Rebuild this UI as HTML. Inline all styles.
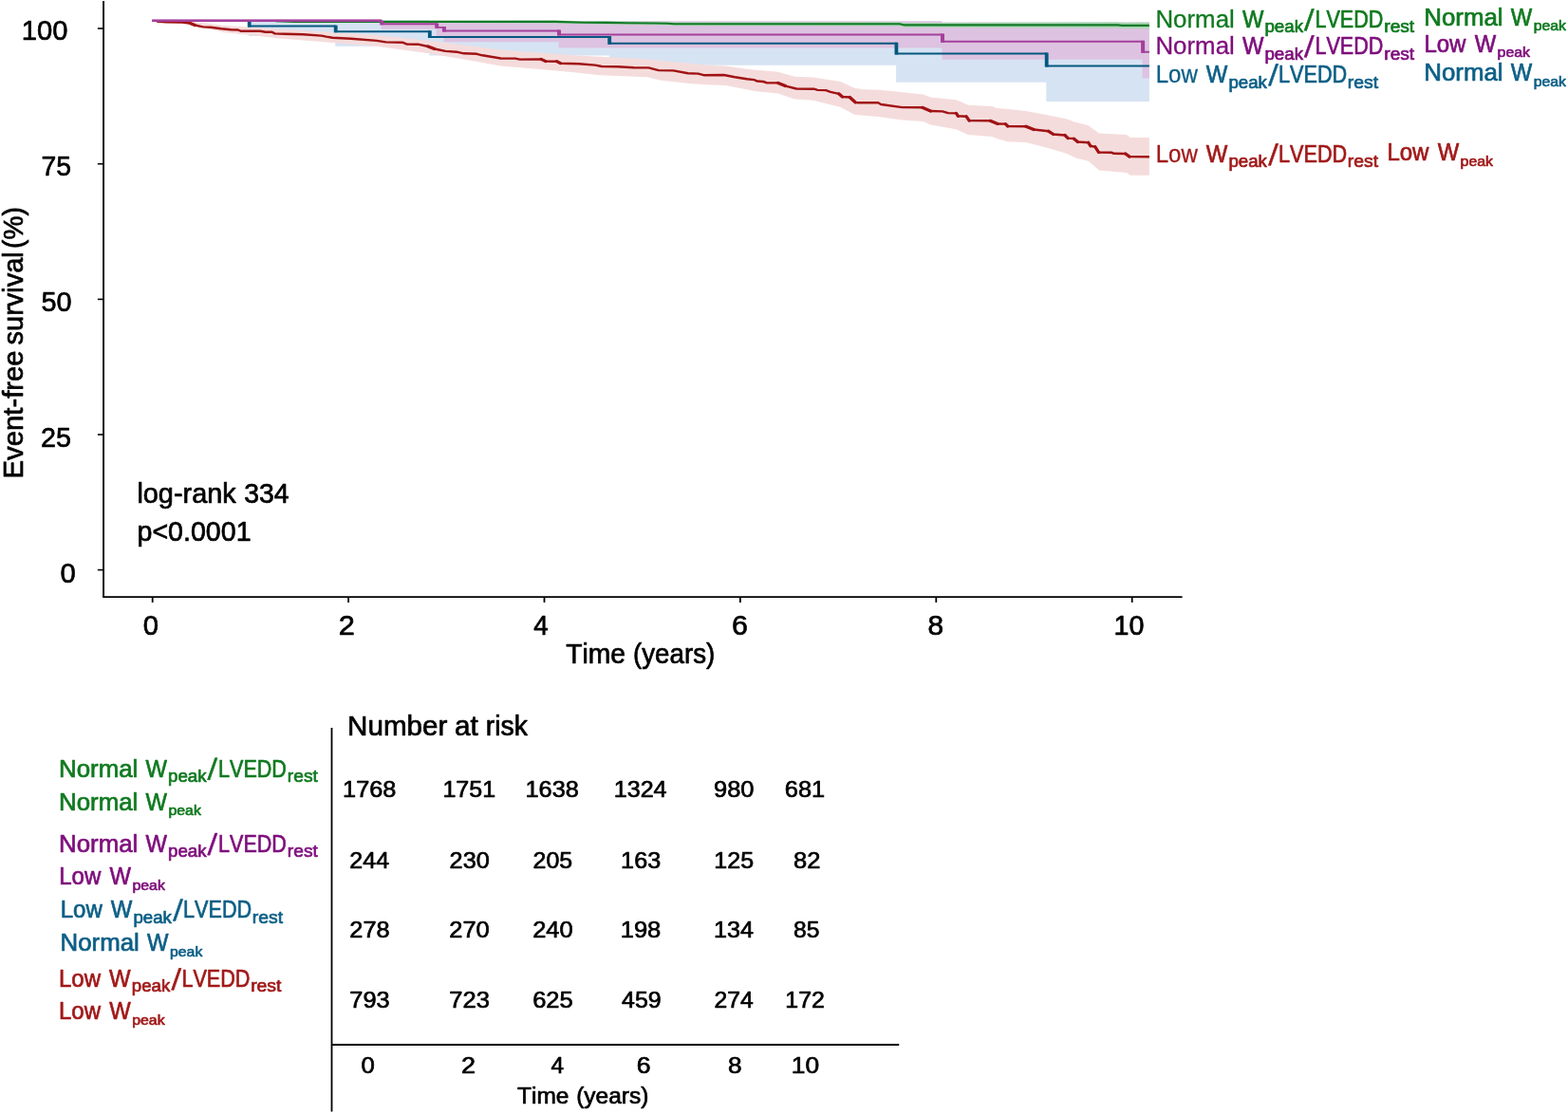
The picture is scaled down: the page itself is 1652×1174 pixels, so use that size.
<!DOCTYPE html>
<html lang="en"><head><meta charset="utf-8"><title>Event-free survival</title>
<style>
html,body{margin:0;padding:0;background:#fff;}
body{width:1652px;height:1174px;overflow:hidden;}
svg{display:block;}
text{font-family:"Liberation Sans",sans-serif;font-kerning:none;white-space:pre;stroke-width:0.7px;stroke-linejoin:round;}
#ticks text,#table text,#ytitle text{stroke:#000;}
</style></head><body>
<svg width="1652" height="1174" viewBox="0 0 1652 1174">
<rect width="1652" height="1174" fill="#fff"/>
<g id="bands">
<polygon points="160.2,21.7 262.3,21.7 262.3,38.0 353.3,38.0 353.3,48.7 452.4,48.7 452.4,58.5 641.8,58.5 641.8,68.7 944.1,68.7 944.1,86.7 1102.3,86.7 1102.3,107.0 1210.9,107.0 1210.9,38.0 1102.2,38.0 1102.2,30.0 943.9,30.0 943.9,26.0 642.0,26.0 642.0,23.0 452.2,23.0 452.2,21.2 160.2,21.2" fill="#d6e3f3"/>
<polygon points="160.2,22.0 200.0,26.0 237.0,34.2 295.0,40.5 397.0,48.7 450.0,56.0 527.5,69.4 600.0,75.8 632.0,79.2 682.3,81.2 694.9,84.6 725.9,87.9 750.0,89.4 764.5,89.9 796.5,96.2 819.7,98.6 837.2,104.4 856.5,105.8 885.6,113.1 900.0,120.8 927.1,123.3 950.4,126.6 972.6,128.1 980.4,131.5 1007.5,136.3 1020.1,142.1 1045.3,144.1 1050.0,146.1 1061.3,149.2 1080.9,149.9 1107.6,156.9 1124.1,162.0 1134.4,166.7 1146.7,169.8 1158.0,179.5 1186.9,182.1 1191.0,184.7 1210.9,184.7 1210.9,145.1 1191.0,145.1 1186.9,142.0 1158.0,140.4 1146.7,132.2 1132.3,128.6 1124.1,125.5 1107.6,121.9 1080.9,117.0 1060.3,114.7 1050.0,113.9 1045.3,112.1 1020.1,110.7 1007.5,105.3 980.4,102.4 972.6,99.5 927.1,94.7 909.8,94.2 900.1,92.8 885.6,86.0 856.5,81.6 837.2,80.7 819.7,75.8 788.7,72.9 764.5,69.5 750.0,69.0 706.5,65.0 682.3,62.5 641.6,60.3 600.0,57.9 527.5,52.4 450.0,42.8 397.0,37.1 295.0,30.8 237.0,26.9 200.0,22.5 160.2,21.5" fill="#f5dcdc"/>
<polygon points="401.7,22.2 401.7,22.2 401.7,30.8 459.7,30.8 459.7,37.9 467.4,37.9 467.4,44.2 588.5,44.2 588.5,50.4 992.5,50.4 992.5,62.8 1203.6,62.8 1203.6,82.4 1210.9,82.4 1210.9,23.5 992.4,23.5 992.4,22.2 401.7,22.2" fill="#ddc3e1"/>
<polygon points="290.0,22.9 310.0,23.5 585.0,24.4 615.0,25.3 640.0,25.5 660.0,25.8 690.0,26.2 704.0,26.5 710.0,27.0 948.0,27.6 953.0,28.8 1178.0,29.6 1182.0,30.1 1210.9,30.2 1210.9,23.6 1182.0,23.7 1178.0,23.2 953.0,24.0 948.0,22.9 710.0,23.5 704.0,22.9 690.0,22.8 660.0,22.6 640.0,22.2 615.0,22.2 585.0,21.5 310.0,22.3 290.0,21.7" fill="#abd6b4"/>
</g>
<g id="curves" fill="none" stroke-linejoin="miter">
<polyline points="165.0,22.6 175.0,23.3 192.0,23.6 200.4,24.5 205.2,26.5 213.9,28.4 221.7,28.7 233.3,30.3 243.0,31.3 250.7,31.5 254.1,32.8 274.0,32.8 279.8,33.7 286.6,33.7 289.5,35.4 300.0,35.7 319.4,36.3 338.7,37.6 343.6,38.6 350.4,39.8 369.7,40.8 396.9,42.9 406.5,44.4 424.0,44.7 428.8,46.6 441.4,46.8 451.1,49.0 457.7,51.5 469.4,53.9 481.0,54.7 488.7,56.3 502.3,56.8 508.1,58.3 527.5,61.5 543.0,61.6 547.8,62.6 570.1,62.4 574.9,64.6 586.6,64.7 590.4,66.7 609.8,67.3 627.1,68.6 633.9,70.0 650.4,70.2 667.8,71.2 683.3,71.4 693.9,74.1 709.4,74.4 724.9,77.3 735.6,77.6 741.4,79.2 762.6,79.0 774.2,81.2 786.8,83.3 794.6,84.1 797.5,85.5 804.2,86.0 808.1,87.4 819.7,87.4 827.5,90.6 839.1,93.5 857.5,93.7 861.4,94.9 870.1,95.1 874.9,96.8 883.7,98.8 887.5,102.0 895.3,102.5 901.1,107.8 902.9,108.2 925.2,108.2 928.1,110.0 950.4,113.1 971.7,113.3 980.4,117.0 993.0,117.4 998.8,119.1 1007.5,119.4 1009.4,122.3 1018.2,122.8 1021.1,127.1 1043.3,127.3 1051.1,130.5 1059.3,130.6 1061.8,133.0 1080.9,133.2 1089.1,136.5 1104.5,138.2 1109.7,141.5 1122.0,142.5 1125.1,145.6 1131.3,146.1 1135.4,149.5 1146.7,150.2 1148.8,153.8 1153.9,154.8 1157.5,160.5 1171.4,160.8 1173.5,161.8 1185.8,162.0 1190.0,165.1 1210.9,165.2" stroke="#a01214" stroke-width="2.4" stroke-linejoin="round"/>
<path d="M200.4 24.5L205.2 26.5M451.1 49.0L457.7 51.5M570.1 62.4L574.9 64.6M586.6 64.7L590.4 66.7M819.7 87.4L827.5 90.6M883.7 98.8L887.5 102.0M895.3 102.5L901.1 107.8M971.7 113.3L980.4 117.0M1007.5 119.4L1009.4 122.3M1018.2 122.8L1021.1 127.1M1043.3 127.3L1051.1 130.5M1059.3 130.6L1061.8 133.0M1080.9 133.2L1089.1 136.5M1104.5 138.2L1109.7 141.5M1122.0 142.5L1125.1 145.6M1131.3 146.1L1135.4 149.5M1146.7 150.2L1148.8 153.8M1153.9 154.8L1157.5 160.5M1185.8 162.0L1190.0 165.1" stroke="#a01214" stroke-width="3.2" stroke-linecap="round"/>
<polyline points="262.3,21.7 262.3,27.6 353.3,27.6 353.3,33.2 452.4,33.2 452.4,38.9 641.8,38.9 641.8,45.8 944.0,45.8 944.0,56.5 1102.3,56.5 1102.3,69.6 1210.9,69.6" stroke="#04587f" stroke-width="2.0"/>
<path d="M262.7 21.7V28.6M353.7 26.7V34.2M452.8 32.2V39.9M642.2 37.9V46.8M944.4 44.8V57.5M1102.7 55.5V70.5" stroke="#04587f" stroke-width="3.8"/>
<polyline points="290.0,22.3 310.0,22.9 585.0,22.9 615.0,23.8 640.0,23.9 660.0,24.2 690.0,24.5 704.0,24.7 710.0,25.2 948.0,25.2 953.0,26.4 1178.0,26.4 1182.0,26.9 1210.9,26.9" stroke="#137a27" stroke-width="2.1"/>
<polyline points="160.2,21.7 401.7,21.7 401.7,25.3 459.7,25.3 459.7,28.9 467.4,28.9 467.4,32.5 588.5,32.5 588.5,36.5 992.5,36.5 992.5,43.8 1203.6,43.8 1203.6,54.8 1210.9,54.8" stroke="#a4409b" stroke-width="1.9"/>
<path d="M160.2 21.7H401.7" stroke="#a4409b" stroke-width="2.5"/>
<path d="M402.2 21.7V26.2M460.2 24.4V29.8M467.9 27.9V33.5M589.0 31.6V37.5M993.0 35.5V44.8M1204.1 42.8V55.8" stroke="#a4409b" stroke-width="4.0"/>
</g>
<g id="axes" stroke="#000" fill="none">
<path d="M109.05 1 V629.1" stroke-width="1.9"/>
<path d="M108.1 629.1 H1245.6" stroke-width="1.7"/>
<path d="M102.9 30.0 H109" stroke-width="1.6"/>
<path d="M102.9 172.7 H109" stroke-width="1.6"/>
<path d="M102.9 315.4 H109" stroke-width="1.6"/>
<path d="M102.9 458.0 H109" stroke-width="1.6"/>
<path d="M102.9 600.6 H109" stroke-width="1.6"/>
<path d="M160.7 629.1 V634.9" stroke-width="1.8"/>
<path d="M367.1 629.1 V634.9" stroke-width="1.8"/>
<path d="M573.5 629.1 V634.9" stroke-width="1.8"/>
<path d="M779.9 629.1 V634.9" stroke-width="1.8"/>
<path d="M986.3 629.1 V634.9" stroke-width="1.8"/>
<path d="M1192.7 629.1 V634.9" stroke-width="1.8"/>
<path d="M349.5 767 V1171.6" stroke-width="1.8"/>
<path d="M349.5 1101 H947.2" stroke-width="1.8"/>
</g>
<g id="labels">
<text fill="#107a20" stroke="#107a20"><tspan x="1217.43" y="28.90" font-size="25.00" textLength="83.35" lengthAdjust="spacingAndGlyphs" stroke-width="0.3">Normal</tspan><tspan font-size="1"> </tspan><tspan x="1308.95" y="28.90" font-size="25.00" textLength="22.49" lengthAdjust="spacingAndGlyphs">W</tspan><tspan x="1332.44" y="34.40" font-size="17.80" textLength="40.58" lengthAdjust="spacingAndGlyphs">peak</tspan><tspan x="1374.00" y="31.90" font-size="32.20" rotate="4" stroke-width="0.5">/</tspan><tspan x="1385.48" y="28.90" font-size="25.00" textLength="71.80" lengthAdjust="spacingAndGlyphs">LVEDD</tspan><tspan x="1458.28" y="34.40" font-size="17.80" textLength="31.91" lengthAdjust="spacingAndGlyphs">rest</tspan></text>
<text fill="#107a20" stroke="#107a20"><tspan x="1500.23" y="26.50" font-size="25.00" textLength="83.35" lengthAdjust="spacingAndGlyphs">Normal</tspan><tspan font-size="1"> </tspan><tspan x="1591.75" y="26.50" font-size="25.00" textLength="22.49" lengthAdjust="spacingAndGlyphs">W</tspan><tspan x="1615.73" y="32.10" font-size="15.40" textLength="34.30" lengthAdjust="spacingAndGlyphs">peak</tspan></text>
<text fill="#7e0f7c" stroke="#7e0f7c"><tspan x="1217.43" y="57.00" font-size="25.00" textLength="83.35" lengthAdjust="spacingAndGlyphs" stroke-width="0.3">Normal</tspan><tspan font-size="1"> </tspan><tspan x="1308.95" y="57.00" font-size="25.00" textLength="22.49" lengthAdjust="spacingAndGlyphs">W</tspan><tspan x="1332.44" y="62.50" font-size="17.80" textLength="40.58" lengthAdjust="spacingAndGlyphs">peak</tspan><tspan x="1374.00" y="60.00" font-size="32.20" rotate="4" stroke-width="0.5">/</tspan><tspan x="1385.48" y="57.00" font-size="25.00" textLength="71.80" lengthAdjust="spacingAndGlyphs">LVEDD</tspan><tspan x="1458.28" y="62.50" font-size="17.80" textLength="31.91" lengthAdjust="spacingAndGlyphs">rest</tspan></text>
<text fill="#7e0f7c" stroke="#7e0f7c"><tspan x="1500.38" y="54.70" font-size="25.00" textLength="44.11" lengthAdjust="spacingAndGlyphs">Low</tspan><tspan font-size="1"> </tspan><tspan x="1553.75" y="54.70" font-size="25.00" textLength="22.49" lengthAdjust="spacingAndGlyphs">W</tspan><tspan x="1577.63" y="60.30" font-size="15.40" textLength="34.40" lengthAdjust="spacingAndGlyphs">peak</tspan></text>
<text fill="#0d5f86" stroke="#0d5f86"><tspan x="1217.68" y="87.00" font-size="25.00" textLength="44.11" lengthAdjust="spacingAndGlyphs" stroke-width="0.3">Low</tspan><tspan font-size="1"> </tspan><tspan x="1270.74" y="87.00" font-size="25.00" textLength="22.59" lengthAdjust="spacingAndGlyphs">W</tspan><tspan x="1294.45" y="92.50" font-size="17.80" textLength="40.48" lengthAdjust="spacingAndGlyphs">peak</tspan><tspan x="1336.30" y="90.00" font-size="32.20" rotate="4" stroke-width="0.5">/</tspan><tspan x="1347.08" y="87.00" font-size="25.00" textLength="72.11" lengthAdjust="spacingAndGlyphs">LVEDD</tspan><tspan x="1419.87" y="92.50" font-size="17.80" textLength="32.23" lengthAdjust="spacingAndGlyphs">rest</tspan></text>
<text fill="#0d5f86" stroke="#0d5f86"><tspan x="1500.23" y="85.10" font-size="25.00" textLength="83.35" lengthAdjust="spacingAndGlyphs">Normal</tspan><tspan font-size="1"> </tspan><tspan x="1591.75" y="85.10" font-size="25.00" textLength="22.49" lengthAdjust="spacingAndGlyphs">W</tspan><tspan x="1615.73" y="90.70" font-size="15.40" textLength="34.30" lengthAdjust="spacingAndGlyphs">peak</tspan></text>
<text fill="#a11a1a" stroke="#a11a1a"><tspan x="1217.68" y="170.90" font-size="25.00" textLength="44.11" lengthAdjust="spacingAndGlyphs" stroke-width="0.3">Low</tspan><tspan font-size="1"> </tspan><tspan x="1270.74" y="170.90" font-size="25.00" textLength="22.59" lengthAdjust="spacingAndGlyphs">W</tspan><tspan x="1294.45" y="176.40" font-size="17.80" textLength="40.48" lengthAdjust="spacingAndGlyphs">peak</tspan><tspan x="1336.30" y="173.90" font-size="32.20" rotate="4" stroke-width="0.5">/</tspan><tspan x="1347.08" y="170.90" font-size="25.00" textLength="72.11" lengthAdjust="spacingAndGlyphs">LVEDD</tspan><tspan x="1419.87" y="176.40" font-size="17.80" textLength="32.23" lengthAdjust="spacingAndGlyphs">rest</tspan></text>
<text fill="#a11a1a" stroke="#a11a1a"><tspan x="1461.38" y="169.00" font-size="25.00" textLength="44.11" lengthAdjust="spacingAndGlyphs">Low</tspan><tspan font-size="1"> </tspan><tspan x="1514.75" y="169.00" font-size="25.00" textLength="22.49" lengthAdjust="spacingAndGlyphs">W</tspan><tspan x="1538.63" y="174.60" font-size="15.40" textLength="34.40" lengthAdjust="spacingAndGlyphs">peak</tspan></text>
<text fill="#107a20" stroke="#107a20"><tspan x="62.03" y="818.50" font-size="25.00" textLength="83.35" lengthAdjust="spacingAndGlyphs">Normal</tspan><tspan font-size="1"> </tspan><tspan x="153.55" y="818.50" font-size="25.00" textLength="22.49" lengthAdjust="spacingAndGlyphs">W</tspan><tspan x="177.04" y="824.00" font-size="17.80" textLength="40.58" lengthAdjust="spacingAndGlyphs">peak</tspan><tspan x="218.60" y="821.50" font-size="32.20" rotate="4" stroke-width="0.5">/</tspan><tspan x="230.08" y="818.50" font-size="25.00" textLength="71.80" lengthAdjust="spacingAndGlyphs">LVEDD</tspan><tspan x="302.88" y="824.00" font-size="17.80" textLength="31.91" lengthAdjust="spacingAndGlyphs">rest</tspan></text>
<text fill="#107a20" stroke="#107a20"><tspan x="62.03" y="853.50" font-size="25.00" textLength="83.35" lengthAdjust="spacingAndGlyphs">Normal</tspan><tspan font-size="1"> </tspan><tspan x="153.55" y="853.50" font-size="25.00" textLength="22.49" lengthAdjust="spacingAndGlyphs">W</tspan><tspan x="177.53" y="859.10" font-size="15.40" textLength="34.30" lengthAdjust="spacingAndGlyphs">peak</tspan></text>
<text fill="#7e0f7c" stroke="#7e0f7c"><tspan x="62.03" y="897.70" font-size="25.00" textLength="83.35" lengthAdjust="spacingAndGlyphs">Normal</tspan><tspan font-size="1"> </tspan><tspan x="153.55" y="897.70" font-size="25.00" textLength="22.49" lengthAdjust="spacingAndGlyphs">W</tspan><tspan x="177.04" y="903.20" font-size="17.80" textLength="40.58" lengthAdjust="spacingAndGlyphs">peak</tspan><tspan x="218.60" y="900.70" font-size="32.20" rotate="4" stroke-width="0.5">/</tspan><tspan x="230.08" y="897.70" font-size="25.00" textLength="71.80" lengthAdjust="spacingAndGlyphs">LVEDD</tspan><tspan x="302.88" y="903.20" font-size="17.80" textLength="31.91" lengthAdjust="spacingAndGlyphs">rest</tspan></text>
<text fill="#7e0f7c" stroke="#7e0f7c"><tspan x="62.18" y="932.20" font-size="25.00" textLength="44.11" lengthAdjust="spacingAndGlyphs">Low</tspan><tspan font-size="1"> </tspan><tspan x="115.55" y="932.20" font-size="25.00" textLength="22.49" lengthAdjust="spacingAndGlyphs">W</tspan><tspan x="139.43" y="937.80" font-size="15.40" textLength="34.40" lengthAdjust="spacingAndGlyphs">peak</tspan></text>
<text fill="#0d5f86" stroke="#0d5f86"><tspan x="63.68" y="967.20" font-size="25.00" textLength="44.11" lengthAdjust="spacingAndGlyphs">Low</tspan><tspan font-size="1"> </tspan><tspan x="116.74" y="967.20" font-size="25.00" textLength="22.59" lengthAdjust="spacingAndGlyphs">W</tspan><tspan x="140.45" y="972.70" font-size="17.80" textLength="40.48" lengthAdjust="spacingAndGlyphs">peak</tspan><tspan x="182.30" y="970.20" font-size="32.20" rotate="4" stroke-width="0.5">/</tspan><tspan x="193.08" y="967.20" font-size="25.00" textLength="72.11" lengthAdjust="spacingAndGlyphs">LVEDD</tspan><tspan x="265.87" y="972.70" font-size="17.80" textLength="32.23" lengthAdjust="spacingAndGlyphs">rest</tspan></text>
<text fill="#0d5f86" stroke="#0d5f86"><tspan x="63.53" y="1002.10" font-size="25.00" textLength="83.35" lengthAdjust="spacingAndGlyphs">Normal</tspan><tspan font-size="1"> </tspan><tspan x="155.05" y="1002.10" font-size="25.00" textLength="22.49" lengthAdjust="spacingAndGlyphs">W</tspan><tspan x="179.03" y="1007.70" font-size="15.40" textLength="34.30" lengthAdjust="spacingAndGlyphs">peak</tspan></text>
<text fill="#a11a1a" stroke="#a11a1a"><tspan x="61.98" y="1039.90" font-size="25.00" textLength="44.11" lengthAdjust="spacingAndGlyphs">Low</tspan><tspan font-size="1"> </tspan><tspan x="115.04" y="1039.90" font-size="25.00" textLength="22.59" lengthAdjust="spacingAndGlyphs">W</tspan><tspan x="138.75" y="1045.40" font-size="17.80" textLength="40.48" lengthAdjust="spacingAndGlyphs">peak</tspan><tspan x="180.60" y="1042.90" font-size="32.20" rotate="4" stroke-width="0.5">/</tspan><tspan x="191.38" y="1039.90" font-size="25.00" textLength="72.11" lengthAdjust="spacingAndGlyphs">LVEDD</tspan><tspan x="264.17" y="1045.40" font-size="17.80" textLength="32.23" lengthAdjust="spacingAndGlyphs">rest</tspan></text>
<text fill="#a11a1a" stroke="#a11a1a"><tspan x="61.98" y="1074.40" font-size="25.00" textLength="44.11" lengthAdjust="spacingAndGlyphs">Low</tspan><tspan font-size="1"> </tspan><tspan x="115.35" y="1074.40" font-size="25.00" textLength="22.49" lengthAdjust="spacingAndGlyphs">W</tspan><tspan x="139.23" y="1080.00" font-size="15.40" textLength="34.40" lengthAdjust="spacingAndGlyphs">peak</tspan></text>
</g>
<g id="ticks">
<text x="22.73" y="42.00" font-size="30.30" textLength="48.66" lengthAdjust="spacingAndGlyphs" fill="#000">100</text>
<text x="43.40" y="184.60" font-size="30.30" textLength="31.54" lengthAdjust="spacingAndGlyphs" fill="#000">75</text>
<text x="43.50" y="327.90" font-size="30.30" textLength="32.08" lengthAdjust="spacingAndGlyphs" fill="#000">50</text>
<text x="43.11" y="470.90" font-size="30.30" textLength="31.95" lengthAdjust="spacingAndGlyphs" fill="#000">25</text>
<text x="63.61" y="613.60" font-size="30.30" textLength="16.29" lengthAdjust="spacingAndGlyphs" fill="#000">0</text>
<text x="150.66" y="668.80" font-size="30.30" textLength="16.29" lengthAdjust="spacingAndGlyphs" fill="#000">0</text>
<text x="356.65" y="668.80" font-size="30.30" textLength="17.09" lengthAdjust="spacingAndGlyphs" fill="#000">2</text>
<text x="562.16" y="668.80" font-size="30.30" textLength="15.45" lengthAdjust="spacingAndGlyphs" fill="#000">4</text>
<text x="770.96" y="668.80" font-size="30.30" textLength="16.87" lengthAdjust="spacingAndGlyphs" fill="#000">6</text>
<text x="977.60" y="668.80" font-size="30.30" textLength="16.59" lengthAdjust="spacingAndGlyphs" fill="#000">8</text>
<text x="1173.52" y="668.80" font-size="30.30" textLength="31.91" lengthAdjust="spacingAndGlyphs" fill="#000">10</text>
<text fill="#000"><tspan x="596.22" y="699.10" font-size="29.00" textLength="62.79" lengthAdjust="spacingAndGlyphs">Time</tspan><tspan font-size="1" stroke="none"> </tspan><tspan x="667.03" y="699.10" font-size="29.00" textLength="86.24" lengthAdjust="spacingAndGlyphs">(years)</tspan></text>
<text fill="#000"><tspan x="144.40" y="530.40" font-size="28.90" textLength="104.30" lengthAdjust="spacingAndGlyphs">log-rank</tspan><tspan font-size="1" stroke="none"> </tspan><tspan x="257.17" y="530.40" font-size="28.90" textLength="47.41" lengthAdjust="spacingAndGlyphs">334</tspan></text>
<text x="144.51" y="569.90" font-size="28.90" textLength="120.04" lengthAdjust="spacingAndGlyphs" fill="#000">p&lt;0.0001</text>
</g>
<g id="ytitle" transform="translate(24.4 361.3) rotate(-90)">
<text fill="#000"><tspan x="-143.25" y="0.00" font-size="29.00" textLength="135.21" lengthAdjust="spacingAndGlyphs">Event-free</tspan><tspan font-size="1" stroke="none"> </tspan><tspan x="-2.16" y="0.00" font-size="29.00" textLength="98.25" lengthAdjust="spacingAndGlyphs">survival</tspan><tspan font-size="1" stroke="none"> </tspan><tspan x="99.41" y="0.00" font-size="29.00" textLength="43.68" lengthAdjust="spacingAndGlyphs">(%)</tspan></text>
</g>
<g id="table">
<text fill="#000"><tspan x="366.12" y="774.90" font-size="29.00" textLength="105.32" lengthAdjust="spacingAndGlyphs">Number</tspan><tspan font-size="1" stroke="none"> </tspan><tspan x="479.09" y="774.90" font-size="29.00" textLength="24.78" lengthAdjust="spacingAndGlyphs">at</tspan><tspan font-size="1" stroke="none"> </tspan><tspan x="511.87" y="774.90" font-size="29.00" textLength="44.04" lengthAdjust="spacingAndGlyphs">risk</tspan></text>
<text x="361.12" y="840.10" font-size="24.60" textLength="56.33" lengthAdjust="spacingAndGlyphs" fill="#000">1768</text>
<text x="466.44" y="840.10" font-size="24.60" textLength="55.73" lengthAdjust="spacingAndGlyphs" fill="#000">1751</text>
<text x="553.52" y="840.10" font-size="24.60" textLength="56.33" lengthAdjust="spacingAndGlyphs" fill="#000">1638</text>
<text x="646.74" y="840.10" font-size="24.60" textLength="55.85" lengthAdjust="spacingAndGlyphs" fill="#000">1324</text>
<text x="752.06" y="840.10" font-size="24.60" textLength="42.49" lengthAdjust="spacingAndGlyphs" fill="#000">980</text>
<text x="826.86" y="840.10" font-size="24.60" textLength="42.33" lengthAdjust="spacingAndGlyphs" fill="#000">681</text>
<text x="368.39" y="914.70" font-size="24.60" textLength="41.69" lengthAdjust="spacingAndGlyphs" fill="#000">244</text>
<text x="473.58" y="914.70" font-size="24.60" textLength="42.16" lengthAdjust="spacingAndGlyphs" fill="#000">230</text>
<text x="561.60" y="914.70" font-size="24.60" textLength="41.60" lengthAdjust="spacingAndGlyphs" fill="#000">205</text>
<text x="654.13" y="914.70" font-size="24.60" textLength="42.03" lengthAdjust="spacingAndGlyphs" fill="#000">163</text>
<text x="752.34" y="914.70" font-size="24.60" textLength="41.76" lengthAdjust="spacingAndGlyphs" fill="#000">125</text>
<text x="835.94" y="914.70" font-size="24.60" textLength="28.39" lengthAdjust="spacingAndGlyphs" fill="#000">82</text>
<text x="368.38" y="988.30" font-size="24.60" textLength="42.28" lengthAdjust="spacingAndGlyphs" fill="#000">278</text>
<text x="473.27" y="988.30" font-size="24.60" textLength="42.47" lengthAdjust="spacingAndGlyphs" fill="#000">270</text>
<text x="561.17" y="988.30" font-size="24.60" textLength="42.47" lengthAdjust="spacingAndGlyphs" fill="#000">240</text>
<text x="653.70" y="988.30" font-size="24.60" textLength="42.66" lengthAdjust="spacingAndGlyphs" fill="#000">198</text>
<text x="751.93" y="988.30" font-size="24.60" textLength="41.95" lengthAdjust="spacingAndGlyphs" fill="#000">134</text>
<text x="835.98" y="988.30" font-size="24.60" textLength="27.41" lengthAdjust="spacingAndGlyphs" fill="#000">85</text>
<text x="368.35" y="1061.50" font-size="24.60" textLength="42.31" lengthAdjust="spacingAndGlyphs" fill="#000">793</text>
<text x="473.24" y="1061.50" font-size="24.60" textLength="42.63" lengthAdjust="spacingAndGlyphs" fill="#000">723</text>
<text x="561.15" y="1061.50" font-size="24.60" textLength="42.57" lengthAdjust="spacingAndGlyphs" fill="#000">625</text>
<text x="655.08" y="1061.50" font-size="24.60" textLength="41.66" lengthAdjust="spacingAndGlyphs" fill="#000">459</text>
<text x="752.61" y="1061.50" font-size="24.60" textLength="41.27" lengthAdjust="spacingAndGlyphs" fill="#000">274</text>
<text x="827.25" y="1061.50" font-size="24.60" textLength="41.66" lengthAdjust="spacingAndGlyphs" fill="#000">172</text>
<text x="380.54" y="1131.10" font-size="24.60" textLength="14.31" lengthAdjust="spacingAndGlyphs" fill="#000">0</text>
<text x="486.09" y="1131.10" font-size="24.60" textLength="15.02" lengthAdjust="spacingAndGlyphs" fill="#000">2</text>
<text x="580.59" y="1131.10" font-size="24.60" textLength="13.58" lengthAdjust="spacingAndGlyphs" fill="#000">4</text>
<text x="670.70" y="1131.10" font-size="24.60" textLength="14.83" lengthAdjust="spacingAndGlyphs" fill="#000">6</text>
<text x="766.91" y="1131.10" font-size="24.60" textLength="14.58" lengthAdjust="spacingAndGlyphs" fill="#000">8</text>
<text x="833.74" y="1131.10" font-size="24.60" textLength="29.34" lengthAdjust="spacingAndGlyphs" fill="#000">10</text>
<text fill="#000"><tspan x="545.10" y="1162.50" font-size="24.40" textLength="54.34" lengthAdjust="spacingAndGlyphs">Time</tspan><tspan font-size="1" stroke="none"> </tspan><tspan x="607.23" y="1162.50" font-size="24.40" textLength="76.13" lengthAdjust="spacingAndGlyphs">(years)</tspan></text>
</g>
</svg>
</body></html>
